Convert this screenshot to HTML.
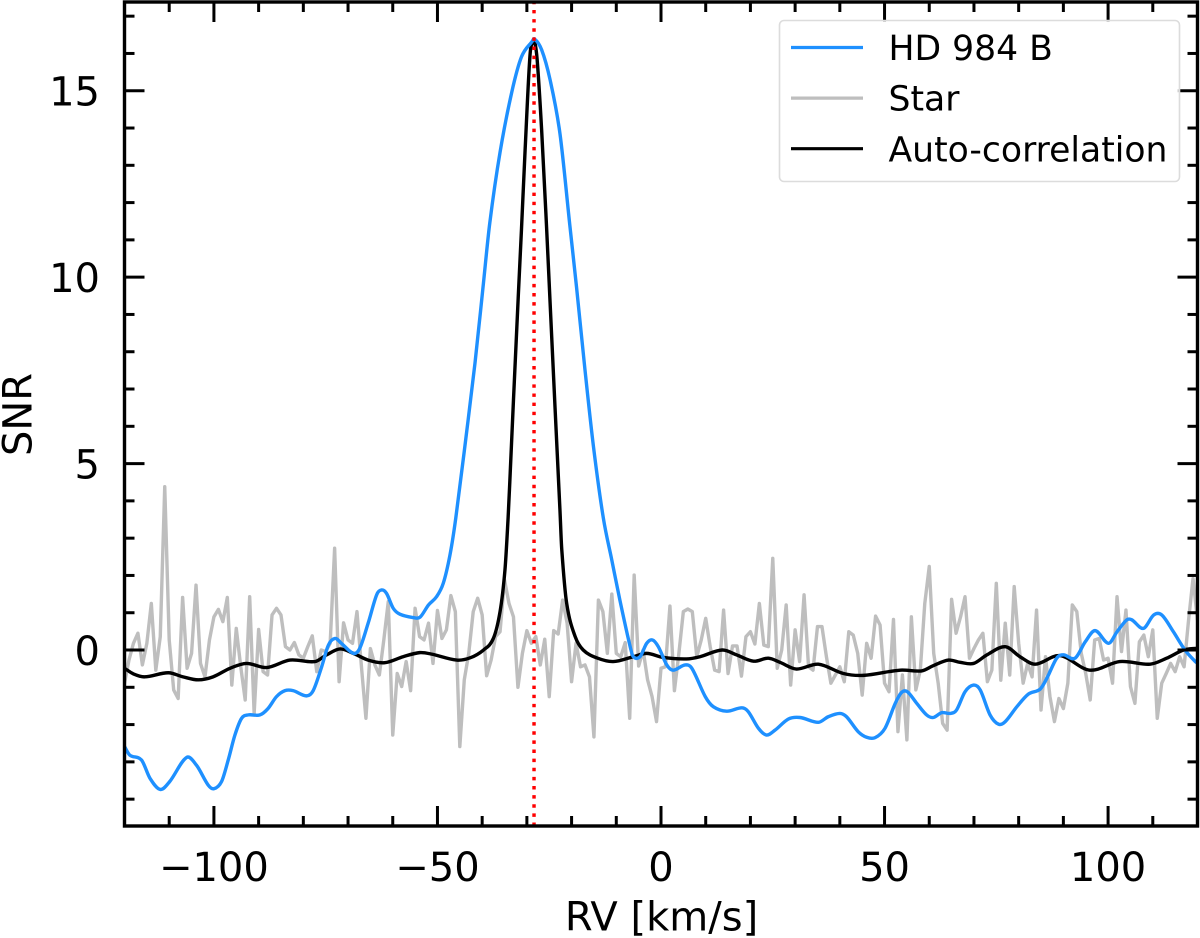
<!DOCTYPE html>
<html lang="en">
<head>
<meta charset="utf-8">
<title>HD 984 B SNR vs RV</title>
<style>
html,body{margin:0;padding:0;background:#fff;}
body{width:1200px;height:938px;overflow:hidden;}
svg{display:block;font-family:"DejaVu Sans","Liberation Sans",sans-serif;}
</style>
</head>
<body>
<svg id="chart" xmlns="http://www.w3.org/2000/svg" width="1200" height="938" viewBox="0 0 1200 938"></svg>
<script>
const xTickLabels = [-100, -50, 0, 50, 100];
const xMinorTicks = [-110, -90, -80, -70, -60, -40, -30, -20, -10, 10, 20, 30, 40, 60, 70, 80, 90, 110];
const yTickLabels = [0, 5, 10, 15];
const yMinorTicks = [-4, -3, -2, -1, 1, 2, 3, 4, 6, 7, 8, 9, 11, 12, 13, 14, 16, 17];
const targetRv = -28.4;

const starSnr = [
-0.89,-0.27,0.18,0.45,-0.40,0.18,1.25,-0.54,0.36,4.38,0.27,-1.07,-1.30,1.41,-0.49,-0.09,1.74,-0.36,-0.72,0.27,
0.89,1.09,0.76,1.41,-0.94,0.58,-0.45,-1.34,1.43,-1.70,0.55,-0.58,-0.67,0.94,1.12,0.94,0.09,0,0.20,-0.13,
-0.22,0.09,0.38,-0.58,0,-0.04,0.18,2.73,-0.85,0.73,0.27,0.18,1.03,-0.45,-1.83,0.04,-0.40,-0.67,0.27,1.30,
-2.28,-0.63,-0.98,-0.31,-1.09,1.12,0.36,0.27,0.72,-0.36,1.06,0.31,0.54,1.46,1.03,-2.59,-0.80,-0.09,1.03,1.39,
0.94,-0.69,-0.27,0.36,0.49,1.88,1.25,0.89,-1.00,-0.09,0.52,0.18,0.36,-0.40,0.29,-1.25,0.52,0.43,1.34,0.72,
-0.85,0.18,-0.45,-0.40,-0.72,-2.33,1.34,1.03,-0.09,1.50,-0.09,-0.18,0.20,-1.83,2.01,-0.43,0,-0.80,-1.25,-1.92,
-0.49,-0.45,1.18,-1.09,-0.09,1.03,1.10,1.03,-0.18,0.27,0.85,0.09,-0.54,-0.58,1.07,-0.63,0.11,0.11,-0.70,0.36,
0.49,0.16,1.25,0.13,0.09,2.46,-0.49,0,1.21,-0.94,0.54,-0.31,1.48,-0.45,-0.54,0.63,0.63,-0.18,-0.89,-0.67,
-0.45,-0.85,0.49,0.40,-0.09,-1.21,0.18,-0.22,0.91,0.67,-0.89,-1.12,0.82,-2.19,-0.67,-2.41,0.89,-1.07,-0.54,1.25,
2.24,-0.09,-0.89,-1.97,-2.15,1.36,0.45,0.89,1.43,-0.22,0.04,0.27,0.45,-0.85,-0.54,1.79,-0.81,0.72,-0.67,1.70,
0.18,-0.89,-0.36,-0.72,1.07,-1.61,-0.18,-1.25,-1.92,-1.30,-1.57,-0.89,1.21,1.03,-0.09,-0.63,-1.34,0.27,0.31,-0.27,
-0.22,-0.89,1.43,-0.04,1.07,-0.98,-1.43,0.22,0.40,-0.18,0.54,-1.83,-0.89,-0.63,-0.36,-0.58,-0.18,-0.45,0.80,1.92,0.80
];

const blueRv = [-120,-118.8,-116.2,-114.3,-112,-109.9,-106.1,-103.9,-101.3,-100,-98.3,-96.8,-95.3,-93.8,-92.3,-89.7,-87.9,-86,-84.1,-82.3,-79.3,-77.8,-75.9,-74.4,-72.9,-71.5,-68.8,-67.4,-65.5,-63.6,-62.5,-61.4,-59.9,-58.4,-55.4,-53.9,-52,-50.2,-48.7,-47.2,-45.9,-43.5,-41.6,-39.8,-38.3,-36,-33.4,-31.2,-28.9,-28.3,-26.7,-24.8,-22.6,-20.4,-18.9,-17,-15.1,-12.9,-11,-9.2,-6.9,-6.2,-4.7,-3.2,-1.9,-0.6,1.3,2.7,5.4,6.9,9.9,11.7,14.7,18.1,19.5,21.8,23.6,25.5,28.5,31.1,35.2,37.4,40,41.5,44.1,46,47.9,50.1,52.4,53.8,55.1,57.2,59.4,60.9,62.8,64.7,66.1,68,69.9,71.4,73.6,75.5,77,79.6,82.2,84.8,86.3,88.5,90,92.6,94.9,97.1,100.1,102,104.2,105.3,107.9,110.2,112,114.6,117.2,119.5,120];
const blueSnr = [-2.59,-2.82,-2.95,-3.44,-3.74,-3.53,-2.88,-3.09,-3.62,-3.72,-3.53,-2.95,-2.28,-1.83,-1.74,-1.74,-1.57,-1.25,-1.09,-1.09,-1.23,-1.09,-0.45,0.13,0.31,0.18,-0.09,0.04,0.72,1.48,1.61,1.52,1.12,0.96,0.87,0.88,1.21,1.43,1.79,2.55,3.54,5.82,7.70,9.74,11.45,13.35,14.95,15.91,16.31,16.39,16.10,15.29,13.85,11.40,9.74,7.51,5.45,3.54,2.41,1.34,0.09,-0.18,-0.18,0.18,0.27,0.09,-0.40,-0.54,-0.40,-0.49,-1.25,-1.52,-1.64,-1.55,-1.65,-2.10,-2.28,-2.15,-1.85,-1.81,-1.94,-1.79,-1.70,-1.79,-2.19,-2.34,-2.35,-2.10,-1.43,-1.14,-1.12,-1.43,-1.74,-1.81,-1.68,-1.70,-1.61,-1.12,-0.94,-1.07,-1.74,-1.99,-1.92,-1.52,-1.18,-1.05,-0.76,-0.22,-0.13,-0.22,0.22,0.52,0.18,0.49,0.81,0.81,0.58,0.94,0.94,0.49,0,-0.31,-0.35];

const autoRv = [-120,-118,-115.5,-110.2,-106.9,-103.5,-100.2,-96.4,-92.7,-88.2,-83,-77.4,-74.8,-71.8,-68.8,-65.5,-61.8,-57.7,-54,-51.3,-45.7,-42.7,-39.7,-37.5,-36,-34.9,-34.2,-33.8,-33,-31.9,-31.2,-30.4,-29.3,-28.6,-28.3,-27.7,-26.7,-25.6,-24.8,-23.7,-22.6,-22.2,-21.1,-19.2,-17.4,-14.4,-10.7,-6.2,-3.2,0.5,5.7,8.7,13.7,16.9,20.7,24,26.6,30.3,35.2,40.8,45.3,53.5,58.3,60.9,64.3,66.9,69.9,72.9,77,80.3,83.7,89.2,95.9,102.6,109.4,113.1,116.9,120];
const autoSnr = [-0.49,-0.64,-0.72,-0.61,-0.72,-0.80,-0.72,-0.49,-0.36,-0.47,-0.27,-0.31,-0.13,0.03,-0.09,-0.27,-0.34,-0.18,-0.07,-0.11,-0.27,-0.21,0,0.31,1.03,2.15,3.54,4.56,6.70,9.55,11.30,13.40,15.95,16.31,16.35,15.83,13.95,11.35,9.30,6.50,3.75,2.70,1.25,0.36,0,-0.21,-0.31,-0.18,-0.09,-0.2,-0.24,-0.18,0,-0.13,-0.30,-0.22,-0.33,-0.51,-0.38,-0.63,-0.68,-0.54,-0.56,-0.42,-0.27,-0.33,-0.36,-0.13,0.09,-0.18,-0.38,-0.15,-0.54,-0.31,-0.38,-0.22,0,0.05];

const legendLabels = ["HD 984 B", "Star", "Auto-correlation"];

const NS = "http://www.w3.org/2000/svg";
const svg = document.getElementById("chart");
const plot = {left: 124.5, right: 1197.5, top: 2, bottom: 826};
const xDomain = [-120, 120];
const yDomain = [-4.72, 17.38];

function xScale(v) {
  return plot.left + (v - xDomain[0]) / (xDomain[1] - xDomain[0]) * (plot.right - plot.left);
}
function yScale(v) {
  return plot.bottom - (v - yDomain[0]) / (yDomain[1] - yDomain[0]) * (plot.bottom - plot.top);
}
function make(tag, attrs, parent) {
  const el = document.createElementNS(NS, tag);
  for (const k in attrs) el.setAttribute(k, attrs[k]);
  (parent || svg).appendChild(el);
  return el;
}
function fmt(v) {
  return String(v).replace("-", "\u2212");
}
function smoothPath(xs, ys) {
  const px = xs.map(xScale);
  const py = ys.map(yScale);
  const n = px.length;
  const m = [];
  for (let i = 0; i < n; i++) {
    const a = Math.max(0, i - 1);
    const b = Math.min(n - 1, i + 1);
    m.push((py[b] - py[a]) / (px[b] - px[a]));
  }
  let d = "M" + px[0].toFixed(2) + " " + py[0].toFixed(2);
  for (let i = 0; i < n - 1; i++) {
    const h = (px[i + 1] - px[i]) / 3;
    d += "C" + (px[i] + h).toFixed(2) + " " + (py[i] + m[i] * h).toFixed(2) + " " +
      (px[i + 1] - h).toFixed(2) + " " + (py[i + 1] - m[i + 1] * h).toFixed(2) + " " +
      px[i + 1].toFixed(2) + " " + py[i + 1].toFixed(2);
  }
  return d;
}

const defs = make("defs", {});
const clip = make("clipPath", {id: "plot-clip"}, defs);
make("rect", {x: plot.left, y: plot.top, width: plot.right - plot.left, height: plot.bottom - plot.top}, clip);

const series = make("g", {"clip-path": "url(#plot-clip)", fill: "none", "stroke-linejoin": "round"});



const starPts = starSnr.map(function (v, i) {
  return xScale(xDomain[0] + i).toFixed(2) + "," + yScale(v).toFixed(2);
}).join(" ");
const starLine = make("polyline", {points: starPts, stroke: "#bebebe", "stroke-width": 3.4}, series);



const autoLine = make("path", {d: smoothPath(autoRv, autoSnr), stroke: "#000", "stroke-width": 3.4}, series);



const blueLine = make("path", {d: smoothPath(blueRv, blueSnr), stroke: "#1e90ff", "stroke-width": 3.4}, series);



const rvLine = make("line", {x1: xScale(targetRv), x2: xScale(targetRv), y1: plot.bottom, y2: plot.top, stroke: "#ff0000", "stroke-width": 3.44, "stroke-dasharray": "3.44 5.69"}, series);



const axes = make("g", {stroke: "#000", "stroke-width": 3});



function xTick(v, len) {
  const x = xScale(v);
  const t1 = make("line", {x1: x, x2: x, y1: plot.bottom, y2: plot.bottom - len}, axes);
  
  
  const t2 = make("line", {x1: x, x2: x, y1: plot.top, y2: plot.top + len}, axes);
  
  
}
function yTick(v, len) {
  const y = yScale(v);
  const t1 = make("line", {x1: plot.left, x2: plot.left + len, y1: y, y2: y}, axes);
  
  
  const t2 = make("line", {x1: plot.right, x2: plot.right - len, y1: y, y2: y}, axes);
  
  
}
xMinorTicks.forEach(function (v) { xTick(v, 10); });
xTickLabels.forEach(function (v) { xTick(v, 20); });
yMinorTicks.forEach(function (v) { yTick(v, 10); });
yTickLabels.forEach(function (v) { yTick(v, 20); });

const frame = make("rect", {x: plot.left, y: plot.top, width: plot.right - plot.left, height: plot.bottom - plot.top, fill: "none", stroke: "#000", "stroke-width": 3.4});



xTickLabels.forEach(function (v) {
  const t = make("text", {x: xScale(v), y: 881, "text-anchor": "middle", "font-size": 40, fill: "#000"});
  t.textContent = fmt(v);
  
  
});
yTickLabels.forEach(function (v) {
  const t = make("text", {x: 100, y: yScale(v) + 15, "text-anchor": "end", "font-size": 40, fill: "#000"});
  t.textContent = fmt(v);
  
  
});

const xTitle = make("text", {x: 661.5, y: 930.5, "text-anchor": "middle", "font-size": 40, fill: "#000"});
xTitle.textContent = "RV [km/s]";



const yTitle = make("text", {x: 0, y: 0, "text-anchor": "middle", "font-size": 40, fill: "#000", transform: "translate(31.5 414.5) rotate(-90)"});
yTitle.textContent = "SNR";



const legend = make("g", {});


const legendBox = make("rect", {x: 779.5, y: 20.5, width: 400, height: 161, rx: 4.5, ry: 4.5, fill: "#fff", "fill-opacity": 0.8, stroke: "#dcdcdc", "stroke-width": 1.6}, legend);


const legendColors = ["#1e90ff", "#bebebe", "#000"];
legendLabels.forEach(function (label, i) {
  const cy = 47.5 + i * 50.6;
  const h = make("line", {x1: 791, x2: 863, y1: cy, y2: cy, stroke: legendColors[i], "stroke-width": 3.2}, legend);
  
  
  const t = make("text", {x: 888.5, y: cy + 12.6, "font-size": 34.6, fill: "#000"}, legend);
  t.textContent = label;
  
  
});
</script>
</body>
</html>
